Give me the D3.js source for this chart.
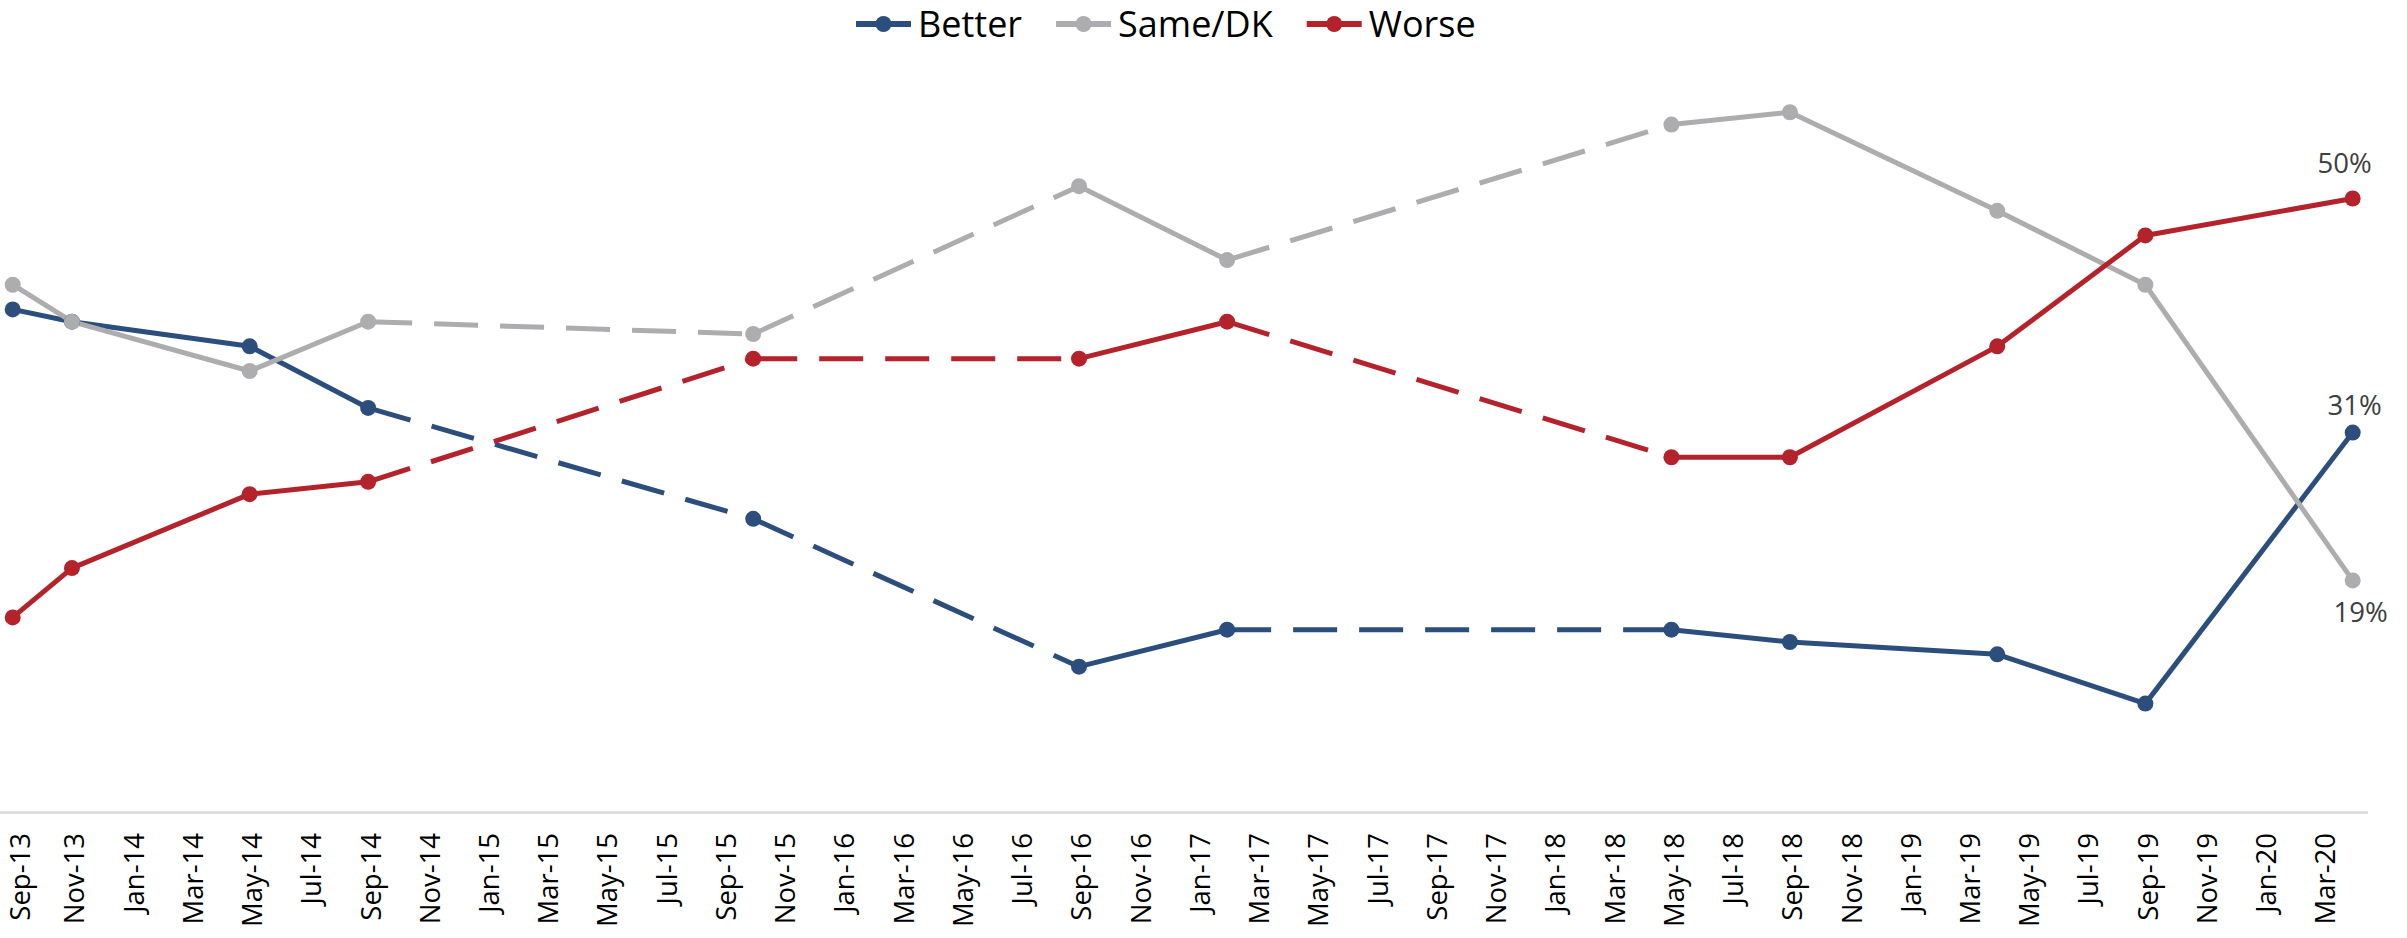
<!DOCTYPE html>
<html>
<head>
<meta charset="utf-8">
<script src="https://cdn.jsdelivr.net/npm/d3@7"></script>
<style>
  html, body { margin: 0; padding: 0; background: #ffffff; }
  svg { display: block; }
</style>
</head>
<body>
<svg id="chart" width="2407" height="938"></svg>
<script>
// ---- data ----
const surveyDates = ["2013-09","2013-11","2014-05","2014-09","2015-10","2016-09","2017-02","2018-05","2018-09","2019-04","2019-09","2020-04"];
const better = [41, 40, 38, 33, 24, 12, 15, 15, 14, 13, 9, 31];
const sameDK = [43, 40, 36, 40, 39, 51, 45, 56, 57, 49, 43, 19];
const worse  = [16, 20, 26, 27, 37, 37, 40, 29, 29, 38, 47, 50];
const seriesNames = ["Better", "Same/DK", "Worse"];
const axisStart = "2013-09";
const axisEnd = "2020-04";
const lastTickLabel = "2020-03";
const monthNames = ["Jan","Feb","Mar","Apr","May","Jun","Jul","Aug","Sep","Oct","Nov","Dec"];

// ---- setup ----
const W = 2407, H = 938;
const svg = d3.select("#chart");
const colors = {"Better": "#2b4e7c", "Same/DK": "#adadb0", "Worse": "#b4232b"};
const seriesVals = {"Better": better, "Same/DK": sameDK, "Worse": worse};

const parse = d3.timeParse("%Y-%m");
const months = d3.timeMonth.range(parse(axisStart), d3.timeMonth.offset(parse(axisEnd), 1));
const mKey = d => d3.timeFormat("%Y-%m")(d);

const x = d3.scaleBand().domain(months.map(mKey)).range([-2.1, 2367.5]).padding(0);
const xc = k => x(k) + x.bandwidth() / 2;
const y = d3.scaleLinear().domain([0, 50]).range([814.5, 198.5]);

// axis line
svg.append("line")
  .attr("x1", -2).attr("x2", 2368)
  .attr("y1", 812.5).attr("y2", 812.5)
  .attr("stroke", "#d9d9d9").attr("stroke-width", 2.5);

// tick labels every 2 months
const tickKeys = months.filter((d, i) => i % 2 === 0).map(mKey).filter(k => k <= lastTickLabel);
const labelFmt = k => { const d = parse(k); return monthNames[d.getMonth()] + "-" + String(d.getFullYear()).slice(2); };
const xAxis = d3.axisBottom(x).tickValues(tickKeys).tickFormat(labelFmt).tickSize(0).tickPadding(0);
const gx = svg.append("g").attr("transform", "translate(0,833)").call(xAxis);
gx.select(".domain").remove();
gx.selectAll("text")
  .attr("transform", "rotate(-90)")
  .attr("x", 0)
  .attr("y", (d, i) => i === 0 ? 5 : 0)   // keep the first label inside the left edge
  .attr("dy", "0.45em")
  .style("text-anchor", "end")
  .style("font-family", "'Open Sans', sans-serif")
  .style("font-size", "27.5px")
  .style("fill", "#000");

// lines: segments with long gaps between surveys are dashed
const monthsBetween = (a, b) => d3.timeMonth.count(parse(a), parse(b));
seriesNames.forEach(name => {
  const vals = seriesVals[name];
  const g = svg.append("g");
  for (let i = 0; i < surveyDates.length - 1; i++) {
    const dashed = monthsBetween(surveyDates[i], surveyDates[i + 1]) > 8;
    g.append("line")
      .attr("x1", xc(surveyDates[i])).attr("y1", y(vals[i]))
      .attr("x2", xc(surveyDates[i + 1])).attr("y2", y(vals[i + 1]))
      .attr("stroke", colors[name]).attr("stroke-width", 5)
      .attr("stroke-dasharray", dashed ? "44,22" : null)
      .attr("stroke-linecap", "butt");
  }
});
seriesNames.forEach(name => {
  const vals = seriesVals[name];
  svg.append("g").selectAll("circle").data(vals).join("circle")
    .attr("cx", (d, i) => xc(surveyDates[i]))
    .attr("cy", d => y(d))
    .attr("r", 8)
    .attr("fill", colors[name]);
});

// end labels
const lastI = surveyDates.length - 1;
const lx = xc(surveyDates[lastI]);
const lblStyle = s => s.style("font-family", "'Open Sans', sans-serif").style("font-size", "27.5px")
  .style("fill", "#404040").attr("text-anchor", "middle");
svg.append("text").attr("x", lx - 8).attr("y", y(worse[lastI]) - 26).text(worse[lastI] + "%").call(lblStyle);
svg.append("text").attr("x", lx + 2).attr("y", y(better[lastI]) - 18).text(better[lastI] + "%").call(lblStyle);
svg.append("text").attr("x", lx + 8).attr("y", y(sameDK[lastI]) + 42).text(sameDK[lastI] + "%").call(lblStyle);

// legend
let cx0 = 856;
const ly = 24;
seriesNames.forEach(name => {
  const g = svg.append("g");
  g.append("line").attr("x1", cx0).attr("x2", cx0 + 55).attr("y1", ly).attr("y2", ly)
    .attr("stroke", colors[name]).attr("stroke-width", 6);
  g.append("circle").attr("cx", cx0 + 27.5).attr("cy", ly).attr("r", 8).attr("fill", colors[name]);
  const t = g.append("text").attr("x", cx0 + 62).attr("y", ly).attr("dy", "0.36em")
    .style("font-family", "'Open Sans', sans-serif").style("font-size", "36px").style("fill", "#000")
    .text(name);
  cx0 = cx0 + 62 + t.node().getComputedTextLength() + 34;
});
</script>
</body>
</html>
